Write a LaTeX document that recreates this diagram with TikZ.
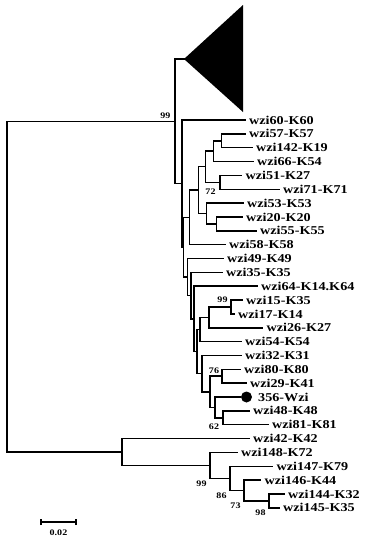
\documentclass[tikz,border=0pt]{standalone}
\usepackage{fontspec}
\newfontfamily\tfont{Liberation Serif}[FakeStretch=1.18]
\begin{document}
\begin{tikzpicture}[x=1pt,y=-1pt,
  br/.style={line width=1.5pt, line cap=rect},
  lbl/.style={font=\tfont\bfseries\fontsize{12}{12}\selectfont, anchor=west, inner sep=0pt},
  bs/.style={font=\tfont\bfseries\fontsize{8.5}{8.5}\selectfont, inner sep=0pt}]
\useasboundingbox (0,0) rectangle (370,550);
% tips
\coordinate (t60) at (245,120.0);
\coordinate (t57) at (245,133.85);
\coordinate (t142) at (252,147.7);
\coordinate (t66) at (253,161.55);
\coordinate (t51) at (241.5,175.4);
\coordinate (t71) at (279,189.25);
\coordinate (t53) at (243,203.1);
\coordinate (t20) at (242,216.95);
\coordinate (t55) at (256,230.8);
\coordinate (t58) at (225,244.65);
\coordinate (t49) at (223,258.5);
\coordinate (t35) at (222,272.35);
\coordinate (t64) at (257,286.2);
\coordinate (t15) at (242,300.05);
\coordinate (t17) at (234,313.9);
\coordinate (t26) at (262.5,327.75);
\coordinate (t54) at (241,341.6);
\coordinate (t32) at (241,355.45);
\coordinate (t80) at (240,369.3);
\coordinate (t29) at (246,383.15);
\coordinate (t356) at (240,397.0);
\coordinate (t48) at (249,410.85);
\coordinate (t81) at (268,424.7);
\coordinate (t42) at (249,438.55);
\coordinate (t148) at (237,452.4);
\coordinate (t147) at (272.5,466.25);
\coordinate (t146) at (260.5,480.1);
\coordinate (t144) at (284,493.95);
\coordinate (t145) at (279,507.8);
% internal nodes
\coordinate (N1) at (221.7,140.8);
\coordinate (N2) at (213.3,151.2);
\coordinate (N3) at (220,182.3);
\coordinate (N4) at (205.3,166.7);
\coordinate (N7) at (216.7,223.9);
\coordinate (N6) at (206.7,213.5);
\coordinate (N5) at (198.7,190.1);
\coordinate (N8) at (189.3,217.4);
\coordinate (Ng) at (231,307);
\coordinate (Nh) at (209,317.4);
\coordinate (Ni) at (200,329.5);
\coordinate (Na) at (222,376.2);
\coordinate (Nc) at (223,417.8);
\coordinate (Nd) at (215,407.4);
\coordinate (Ne) at (210,391.8);
\coordinate (Nf) at (202,373.6);
\coordinate (Nj) at (197,351.6);
\coordinate (Nk) at (194,318.9);
\coordinate (Nl) at (191,295.6);
\coordinate (Nm) at (187.5,277.1);
\coordinate (N9) at (183.5,247.2);
\coordinate (Y) at (182,183.6);
\coordinate (X) at (175,121.3);
\coordinate (apex) at (184,59);
\coordinate (R) at (7,300);
\coordinate (R2) at (122,452);
\coordinate (A) at (210,465.4);
\coordinate (B) at (230,478.4);
\coordinate (C) at (244,490.5);
\coordinate (D) at (269,500.9);
% collapsed clade
\fill (apex) -- (243,5) -- (243,112) -- cycle;
% branches
\draw[br] (R) |- (X);
\draw[br] (R) |- (R2);
\draw[br] (X) |- (apex);
\draw[br] (X) |- (Y);
\draw[br] (Y) |- (t60);
\draw[br] (Y) |- (N9);
\draw[br] (N9) |- (N8);
\draw[br] (N9) |- (Nm);
\draw[br] (N8) |- (N5);
\draw[br] (N8) |- (t58);
\draw[br] (N5) |- (N4);
\draw[br] (N5) |- (N6);
\draw[br] (N4) |- (N2);
\draw[br] (N4) |- (N3);
\draw[br] (N2) |- (N1);
\draw[br] (N2) |- (t66);
\draw[br] (N1) |- (t57);
\draw[br] (N1) |- (t142);
\draw[br] (N3) |- (t51);
\draw[br] (N3) |- (t71);
\draw[br] (N6) |- (t53);
\draw[br] (N6) |- (N7);
\draw[br] (N7) |- (t20);
\draw[br] (N7) |- (t55);
\draw[br] (Nm) |- (t49);
\draw[br] (Nm) |- (Nl);
\draw[br] (Nl) |- (t35);
\draw[br] (Nl) |- (Nk);
\draw[br] (Nk) |- (t64);
\draw[br] (Nk) |- (Nj);
\draw[br] (Nj) |- (Ni);
\draw[br] (Nj) |- (Nf);
\draw[br] (Ni) |- (Nh);
\draw[br] (Ni) |- (t54);
\draw[br] (Nh) |- (Ng);
\draw[br] (Nh) |- (t26);
\draw[br] (Ng) |- (t15);
\draw[br] (Ng) |- (t17);
\draw[br] (Nf) |- (t32);
\draw[br] (Nf) |- (Ne);
\draw[br] (Ne) |- (Na);
\draw[br] (Ne) |- (Nd);
\draw[br] (Na) |- (t80);
\draw[br] (Na) |- (t29);
\draw[br] (Nd) |- (t356);
\draw[br] (Nd) |- (Nc);
\draw[br] (Nc) |- (t48);
\draw[br] (Nc) |- (t81);
\draw[br] (R2) |- (t42);
\draw[br] (R2) |- (A);
\draw[br] (A) |- (t148);
\draw[br] (A) |- (B);
\draw[br] (B) |- (t147);
\draw[br] (B) |- (C);
\draw[br] (C) |- (t146);
\draw[br] (C) |- (D);
\draw[br] (D) |- (t144);
\draw[br] (D) |- (t145);
% labels
\node[lbl] (l60) at ([xshift=4pt]t60) {wzi60-K60};
\node[lbl] (l57) at ([xshift=4pt]t57) {wzi57-K57};
\node[lbl] (l142) at ([xshift=4pt]t142) {wzi142-K19};
\node[lbl] (l66) at ([xshift=4pt]t66) {wzi66-K54};
\node[lbl] (l51) at ([xshift=4pt]t51) {wzi51-K27};
\node[lbl] (l71) at ([xshift=4pt]t71) {wzi71-K71};
\node[lbl] (l53) at ([xshift=4pt]t53) {wzi53-K53};
\node[lbl] (l20) at ([xshift=4pt]t20) {wzi20-K20};
\node[lbl] (l55) at ([xshift=4pt]t55) {wzi55-K55};
\node[lbl] (l58) at ([xshift=4pt]t58) {wzi58-K58};
\node[lbl] (l49) at ([xshift=4pt]t49) {wzi49-K49};
\node[lbl] (l35) at ([xshift=4pt]t35) {wzi35-K35};
\node[lbl] (l64) at ([xshift=4pt]t64) {wzi64-K14.K64};
\node[lbl] (l15) at ([xshift=4pt]t15) {wzi15-K35};
\node[lbl] (l17) at ([xshift=4pt]t17) {wzi17-K14};
\node[lbl] (l26) at ([xshift=4pt]t26) {wzi26-K27};
\node[lbl] (l54) at ([xshift=4pt]t54) {wzi54-K54};
\node[lbl] (l32) at ([xshift=4pt]t32) {wzi32-K31};
\node[lbl] (l80) at ([xshift=4pt]t80) {wzi80-K80};
\node[lbl] (l29) at ([xshift=4pt]t29) {wzi29-K41};
\node[fill, circle, minimum size=11pt, inner sep=0pt] (dot) at ([xshift=6.5pt]t356) {};
\node[lbl] (l356) at ([xshift=18pt]t356) {356-Wzi};
\node[lbl] (l48) at ([xshift=4pt]t48) {wzi48-K48};
\node[lbl] (l81) at ([xshift=4pt]t81) {wzi81-K81};
\node[lbl] (l42) at ([xshift=4pt]t42) {wzi42-K42};
\node[lbl] (l148) at ([xshift=4pt]t148) {wzi148-K72};
\node[lbl] (l147) at ([xshift=4pt]t147) {wzi147-K79};
\node[lbl] (l146) at ([xshift=4pt]t146) {wzi146-K44};
\node[lbl] (l144) at ([xshift=4pt]t144) {wzi144-K32};
\node[lbl] (l145) at ([xshift=4pt]t145) {wzi145-K35};
% bootstrap values
\node[bs] (b99a) at (165.3,115.5) {99};
\node[bs] (b72) at (210.5,191.5) {72};
\node[bs] (b99b) at (222.5,299.5) {99};
\node[bs] (b76) at (214,370.3) {76};
\node[bs] (b62) at (214,427) {62};
\node[bs] (b99c) at (201.5,483.4) {99};
\node[bs] (b86) at (221.5,495.5) {86};
\node[bs] (b73) at (235.5,505.9) {73};
\node[bs] (b98) at (260.5,512.8) {98};
% scale bar
\coordinate (s1) at (41,522);
\coordinate (s2) at (76,522);
\draw[line width=1.4pt] (s1) -- (s2);
\draw[line width=1.4pt] ([yshift=-3pt]s1) -- ([yshift=3pt]s1);
\draw[line width=1.4pt] ([yshift=-3pt]s2) -- ([yshift=3pt]s2);
\node[bs] (sl) at (58.5,533) {0.02};
\end{tikzpicture}
\end{document}
